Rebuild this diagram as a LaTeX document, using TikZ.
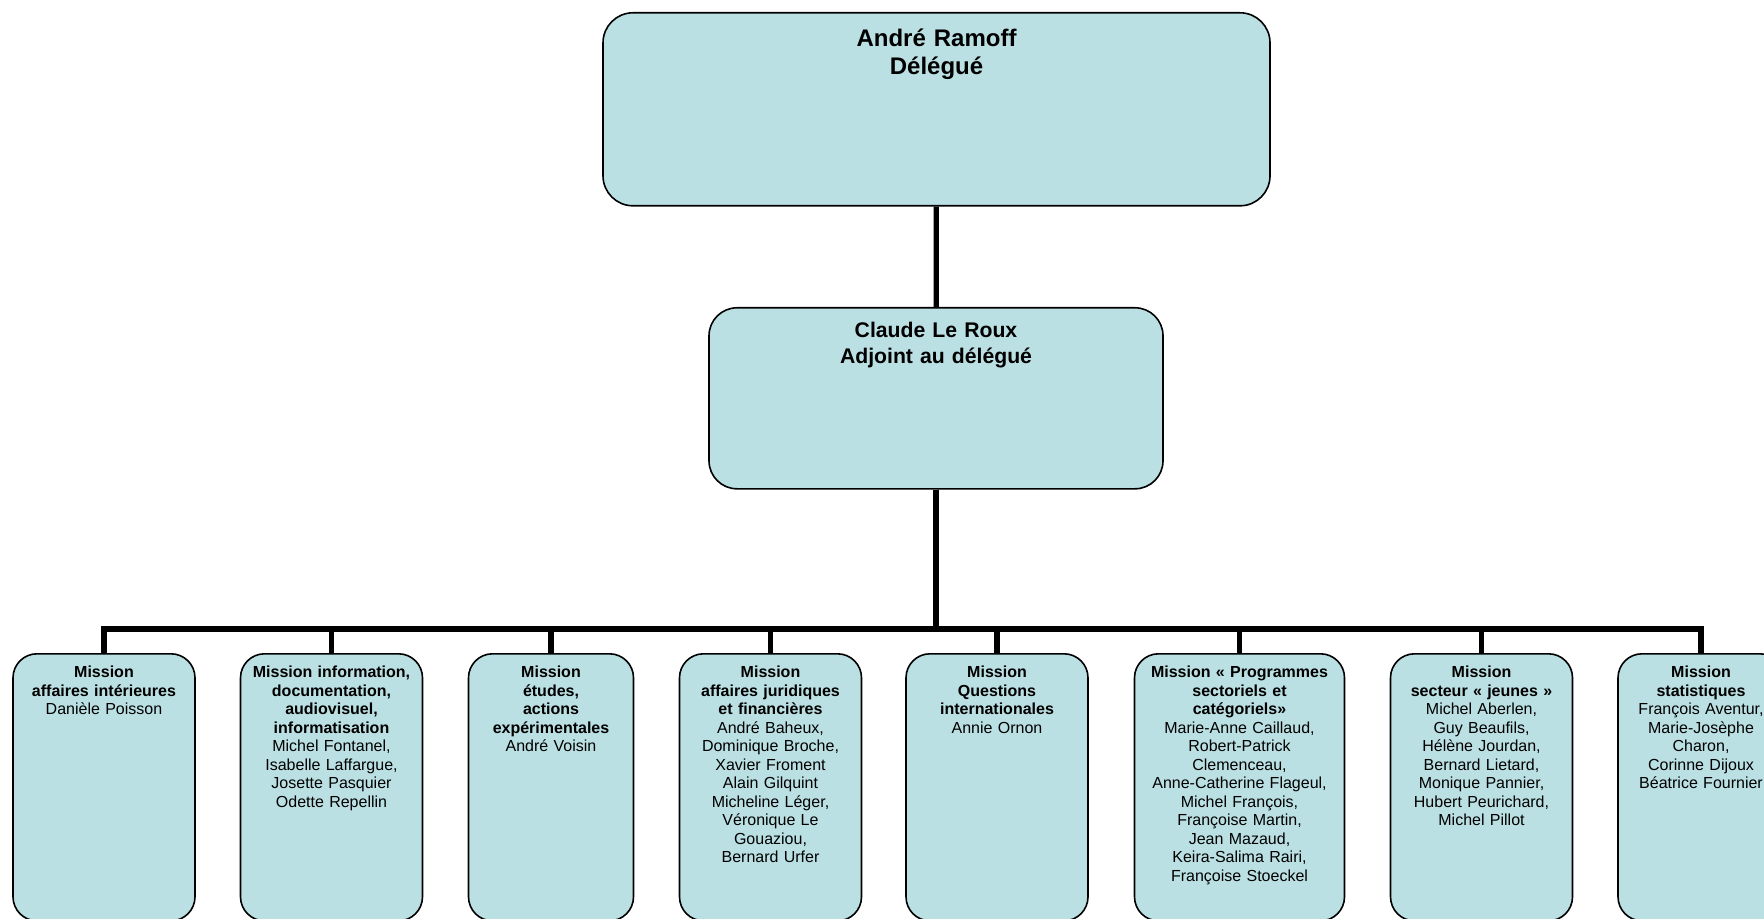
\documentclass[tikz,border=0pt]{standalone}
\usepackage{fontspec}
\setmainfont{Liberation Sans}
\usepackage{tikz}
\definecolor{orgfill}{RGB}{187,224,227}
\definecolor{orgline}{RGB}{0,0,0}
\tikzset{
  chief/.style={rectangle, draw=orgline, fill=orgfill, anchor=north,
    text width=325.5pt, align=center, inner xsep=4pt, inner ysep=4pt,
    text height=12.75pt, text depth=75.75pt,
    font=\fontsize{12}{14}\selectfont\bfseries, rounded corners=15pt, line width=0.8pt},
  deputy/.style={rectangle, draw=orgline, fill=orgfill, anchor=north,
    text width=219pt, align=center, inner xsep=4pt, inner ysep=4pt,
    text height=11pt, text depth=71.5pt,
    font=\fontsize{10.6}{13}\selectfont\bfseries, rounded corners=14pt, line width=0.8pt},
  mission/.style={rectangle, draw=orgline, fill=orgfill, anchor=north,
    text width=#1, align=center, inner xsep=2pt, inner ysep=4pt,
    text height=8pt, text depth=117.5pt,
    font=\fontsize{8}{9.25}\selectfont, rounded corners=12pt, line width=0.8pt},
  link/.style={line width=2.6pt, color=orgline}
}

\begin{document}
\begin{tikzpicture}[x=0.5pt, y=-0.5pt]

  \clip (0,0) rectangle (1764,919);

  \node[chief] (del) at (936.5,12) {André Ramoff\\Délégué};
  \node[deputy] (adj) at (936,307) {Claude Le Roux\\Adjoint au délégué};
  \coordinate (bus) at (936,629);

  \node[mission=87pt] (m1) at (104,653)
    {\textbf{Mission\\affaires intérieures}\\Danièle Poisson};
  \node[mission=87pt] (m2) at (331.5,653)
    {\textbf{Mission information,\\documentation,\\audiovisuel,\\informatisation}\\Michel Fontanel,\\Isabelle Laffargue,\\Josette Pasquier\\Odette Repellin};
  \node[mission=78.5pt] (m3) at (551,653)
    {\textbf{Mission\\études,\\actions\\expérimentales}\\André Voisin};
  \node[mission=87pt] (m4) at (770.5,653)
    {\textbf{Mission\\affaires juridiques\\et financières}\\André Baheux,\\Dominique Broche,\\Xavier Froment\\Alain Gilquint\\Micheline Léger,\\Véronique Le\\Gouaziou,\\Bernard Urfer};
  \node[mission=87pt] (m5) at (997,653)
    {\textbf{Mission\\Questions\\internationales}\\Annie Ornon};
  \node[mission=101pt] (m6) at (1239.5,653)
    {\textbf{Mission « Programmes\\sectoriels et\\catégoriels»}\\Marie-Anne Caillaud,\\Robert-Patrick\\Clemenceau,\\Anne-Catherine Flageul,\\Michel François,\\Françoise Martin,\\Jean Mazaud,\\Keira-Salima Rairi,\\Françoise Stoeckel};
  \node[mission=87pt] (m7) at (1481.5,653)
    {\textbf{Mission\\secteur « jeunes »}\\Michel Aberlen,\\Guy Beaufils,\\Hélène Jourdan,\\Bernard Lietard,\\Monique Pannier,\\Hubert Peurichard,\\Michel Pillot};
  \node[mission=79pt] (m8) at (1701,653)
    {\textbf{Mission\\statistiques}\\François Aventur,\\Marie-Josèphe\\Charon,\\Corinne Dijoux\\Béatrice Fournier};

  \draw[link] (del) -- (adj);
  \foreach \m in {m1,m2,m3,m4,m5,m6,m7,m8}
    \draw[link] (adj.south) -- (bus) -| (\m.north);

\end{tikzpicture}
\end{document}
